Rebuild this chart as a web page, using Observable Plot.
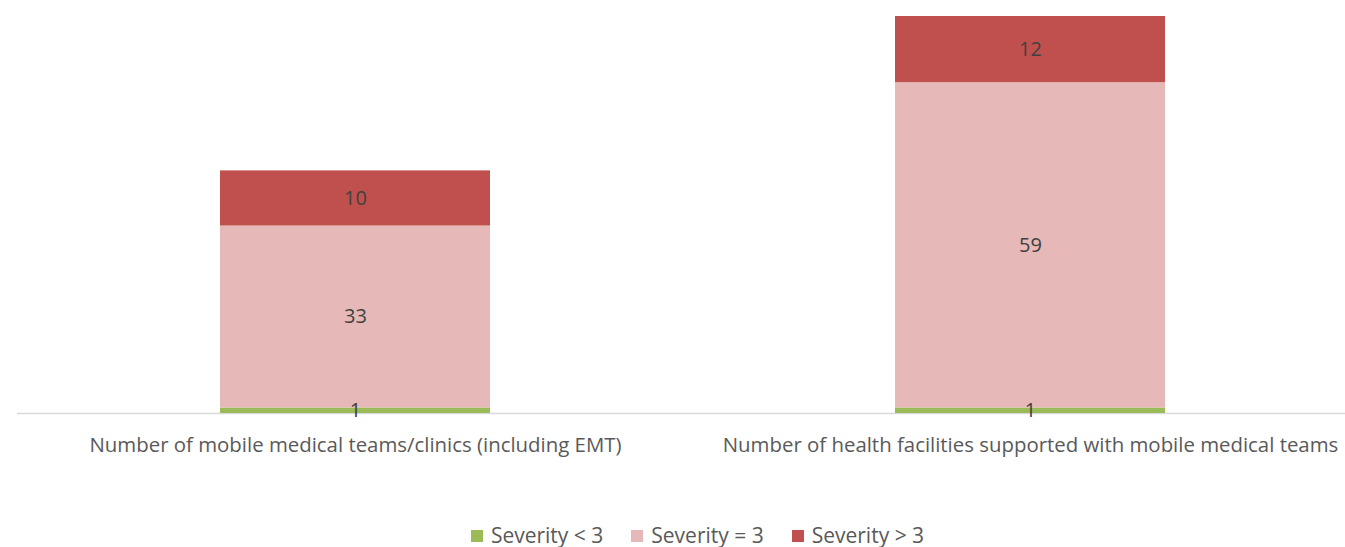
<!DOCTYPE html>
<html>
<head>
<meta charset="utf-8">
<script src="https://cdn.jsdelivr.net/npm/d3@7"></script>
<script src="https://cdn.jsdelivr.net/npm/@observablehq/plot@0.6"></script>
<style>
  html, body { margin: 0; padding: 0; background: #fff; }
  body { width: 1345px; height: 547px; overflow: hidden; font-family: "Open Sans", sans-serif; }
  #chart svg { display: block; }
  #legend { display: flex; justify-content: center; align-items: center; margin-top: 55px; font-size: 21px; line-height: 21px; color: #595959; padding-left: 50px; }
  .item { display: flex; align-items: center; margin: 0 14px; }
  .sw { width: 12px; height: 12px; margin-right: 8px; }
</style>
</head>
<body>
<div id="chart"></div>
<div id="legend"></div>
<script>
const categories = [
  "Number of mobile medical teams/clinics (including EMT)",
  "Number of health facilities supported with mobile medical teams"
];
const seriesNames = ["Severity < 3", "Severity = 3", "Severity > 3"];
const seriesColors = ["#9bbb59", "#e6b9b8", "#c0504d"];
const severityLow = [1, 1];
const severityMid = [33, 59];
const severityHigh = [10, 12];

const seriesValues = [severityLow, severityMid, severityHigh];
const data = [];
categories.forEach((c, i) => {
  seriesNames.forEach((s, j) => {
    data.push({category: c, series: s, value: seriesValues[j][i]});
  });
});

const chart = Plot.plot({
  width: 1345,
  height: 470,
  marginLeft: 17,
  marginRight: 0,
  marginTop: 16,
  marginBottom: 57,
  x: {domain: categories, range: [219.5, 1164.5], paddingInner: 0.6, paddingOuter: 0, label: null},
  y: {domain: [0, 72], range: [413, 16], axis: null},
  color: {domain: seriesNames, range: seriesColors},
  style: {fontFamily: "Open Sans, sans-serif", background: "#fff"},
  marks: [
    Plot.ruleY([0], {stroke: "#d9d9d9", strokeWidth: 1.5}),
    Plot.barY(data, Plot.stackY({x: "category", y: "value", fill: "series", order: seriesNames})),
    Plot.text(data, Plot.stackY({x: "category", y: "value", z: "series", order: seriesNames, text: d => String(d.value), fill: "#404040", fontSize: 20})),
    Plot.axisX({tickSize: 0, tickPadding: 24, fontSize: 20.4, color: "#595959", label: null})
  ]
});
document.getElementById("chart").appendChild(chart);

const legend = document.getElementById("legend");
seriesNames.forEach((s, i) => {
  const item = document.createElement("div");
  item.className = "item";
  const sw = document.createElement("div");
  sw.className = "sw";
  sw.style.background = seriesColors[i];
  const t = document.createElement("span");
  t.textContent = s;
  item.appendChild(sw);
  item.appendChild(t);
  legend.appendChild(item);
});
</script>
</body>
</html>
